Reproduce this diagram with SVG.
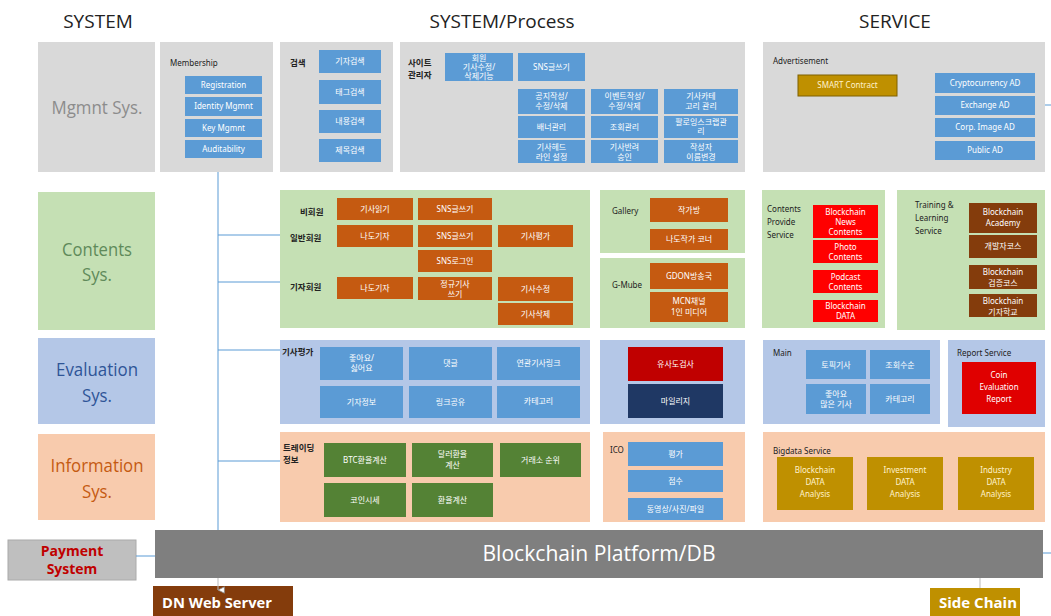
<svg xmlns="http://www.w3.org/2000/svg" width="1051" height="616" viewBox="0 0 1051 616">
<defs>
<style>
.pg{fill:#d9d9d9}.pgr{fill:#c5e0b4}.pbl{fill:#b4c7e7}.ppe{fill:#f8cbad}
.b{fill:#5b9bd5}.o{fill:#c55a11}.r{fill:#ff0000}.br{fill:#843c0c}.gd{fill:#bf9000}.dg{fill:#548235}
.t{font-family:"Noto Sans","Noto Sans CJK KR",sans-serif;font-size:8px;fill:#fff;text-anchor:middle}
.ty{font-family:"Noto Sans","Noto Sans CJK KR",sans-serif;font-size:8px;fill:#fff2cc;text-anchor:middle}
.lb{font-family:"Noto Sans","Noto Sans CJK KR",sans-serif;font-size:8px;fill:#222}
.lk{font-family:"Noto Sans CJK KR",sans-serif;font-size:8.5px;fill:#222;font-weight:bold}
.hd{font-family:"Open Sans","Noto Sans",sans-serif;font-size:19px;fill:#222;text-anchor:middle}
.sys{font-family:"Open Sans","Noto Sans",sans-serif;font-size:19px;text-anchor:middle}
.cn{stroke:#5b9bd5;stroke-width:1;fill:none}
</style>
<marker id="tri" viewBox="0 0 10 10" refX="5" refY="9" markerWidth="8" markerHeight="8" orient="auto">
<path d="M1,1 L9,1 L5,9 Z" fill="#fff" stroke="#888" stroke-width="1"/>
</marker>
</defs>
<rect width="1051" height="616" fill="#fff"/>

<g id="headers">
<text class="hd" x="98" y="28">SYSTEM</text>
<text class="hd" x="502" y="28">SYSTEM/Process</text>
<text class="hd" x="895" y="28">SERVICE</text>
</g>

<g id="mgmnt-sys"><rect class="pg" x="38" y="42" width="117" height="130"/>
<text class="sys" x="97" y="114" fill="#8c8c8c" textLength="91" lengthAdjust="spacingAndGlyphs">Mgmnt Sys.</text></g>
<g id="contents-sys"><rect class="pgr" x="38" y="192" width="117" height="138"/>
<text class="sys" x="97" y="256" fill="#5f8a5a" textLength="70" lengthAdjust="spacingAndGlyphs">Contents</text><text class="sys" x="97" y="281" fill="#5f8a5a" textLength="30" lengthAdjust="spacingAndGlyphs">Sys.</text></g>
<g id="evaluation-sys"><rect class="pbl" x="38" y="338" width="117" height="86"/>
<text class="sys" x="97" y="376" fill="#2f5597" textLength="82" lengthAdjust="spacingAndGlyphs">Evaluation</text><text class="sys" x="97" y="402" fill="#2f5597" textLength="30" lengthAdjust="spacingAndGlyphs">Sys.</text></g>
<g id="information-sys"><rect class="ppe" x="38" y="434" width="117" height="86"/>
<text class="sys" x="97" y="472" fill="#c55a11" textLength="93" lengthAdjust="spacingAndGlyphs">Information</text><text class="sys" x="97" y="498" fill="#c55a11" textLength="30" lengthAdjust="spacingAndGlyphs">Sys.</text></g>

<g id="membership"><rect class="pg" x="160" y="42" width="113" height="130"/>
<text class="lb" x="170" y="66">Membership</text>
<rect class="b" x="185" y="76" width="77" height="18"/><text class="t" x="223.5" y="88">Registration</text>
<rect class="b" x="185" y="97" width="77" height="19"/><text class="t" x="223.5" y="109">Identity Mgmnt</text>
<rect class="b" x="185" y="119" width="77" height="18"/><text class="t" x="223.5" y="131">Key Mgmnt</text>
<rect class="b" x="185" y="140" width="77" height="18"/><text class="t" x="223.5" y="152">Auditability</text></g>

<g id="search"><rect class="pg" x="280" y="42" width="113" height="130"/>
<text class="lk" x="290" y="66">검색</text>
<rect class="b" x="319" y="50" width="62" height="23"/><text class="t" x="350" y="64">기자검색</text>
<rect class="b" x="319" y="80" width="62" height="24"/><text class="t" x="350" y="95">태그검색</text>
<rect class="b" x="319" y="110" width="62" height="23"/><text class="t" x="350" y="124">내용검색</text>
<rect class="b" x="319" y="139" width="62" height="23"/><text class="t" x="350" y="153">제목검색</text></g>

<g id="site-admin"><rect class="pg" x="400" y="42" width="345" height="130"/>
<text class="lk" x="408" y="66">사이트</text><text class="lk" x="408" y="78">관리자</text>
<rect class="b" x="445" y="53" width="68" height="28"/><text class="t" x="479" y="61">회원</text><text class="t" x="479" y="70">기사수정/</text><text class="t" x="479" y="79">삭제기능</text>
<rect class="b" x="518" y="53" width="67" height="28"/><text class="t" x="551.5" y="70">SNS글쓰기</text>
<rect class="b" x="518" y="89" width="67" height="25"/><text class="t" x="551.5" y="99">공지작성/</text><text class="t" x="551.5" y="109">수정/삭제</text>
<rect class="b" x="591" y="89" width="67" height="25"/><text class="t" x="624.5" y="99">이벤트작성/</text><text class="t" x="624.5" y="109">수정/삭제</text>
<rect class="b" x="664" y="89" width="74" height="25"/><text class="t" x="701" y="99">기사카테</text><text class="t" x="701" y="109">고리 관리</text>
<rect class="b" x="518" y="116" width="67" height="22"/><text class="t" x="551.5" y="130">배너관리</text>
<rect class="b" x="591" y="116" width="67" height="22"/><text class="t" x="624.5" y="130">조회관리</text>
<rect class="b" x="664" y="116" width="74" height="22"/><text class="t" x="701" y="125">팔로잉스크랩관</text><text class="t" x="701" y="134">리</text>
<rect class="b" x="518" y="140" width="67" height="23"/><text class="t" x="551.5" y="150">기사헤드</text><text class="t" x="551.5" y="160">라인 설정</text>
<rect class="b" x="591" y="140" width="67" height="23"/><text class="t" x="624.5" y="150">기사반려</text><text class="t" x="624.5" y="160">승인</text>
<rect class="b" x="664" y="140" width="74" height="23"/><text class="t" x="701" y="150">작성자</text><text class="t" x="701" y="160">이름변경</text></g>

<g id="advertisement"><rect class="pg" x="763" y="42" width="282" height="130"/>
<text class="lb" x="773" y="64">Advertisement</text>
<rect class="gd" x="798" y="75" width="99" height="21" stroke="#7f6000" stroke-width="1"/><text class="ty" x="847.5" y="88">SMART Contract</text>
<rect class="b" x="935" y="73" width="100" height="20"/><text class="t" x="985" y="86">Cryptocurrency AD</text>
<rect class="b" x="935" y="96" width="100" height="19"/><text class="t" x="985" y="108">Exchange AD</text>
<rect class="b" x="935" y="118" width="100" height="19"/><text class="t" x="985" y="130">Corp. Image AD</text>
<rect class="b" x="935" y="141" width="100" height="19"/><text class="t" x="985" y="153">Public AD</text></g>

<g id="member-contents"><rect class="pgr" x="280" y="190" width="310" height="138"/>
<text class="lk" x="300" y="215">비회원</text>
<text class="lk" x="290" y="241">일반회원</text>
<text class="lk" x="290" y="290">기자회원</text>
<rect class="o" x="337" y="198" width="76" height="22"/><text class="t" x="375" y="212">기사읽기</text>
<rect class="o" x="418" y="198" width="74" height="22"/><text class="t" x="455" y="212">SNS글쓰기</text>
<rect class="o" x="337" y="225" width="76" height="22"/><text class="t" x="375" y="239">나도기자</text>
<rect class="o" x="418" y="225" width="74" height="22"/><text class="t" x="455" y="239">SNS글쓰기</text>
<rect class="o" x="498" y="225" width="75" height="22"/><text class="t" x="535.5" y="239">기사평가</text>
<rect class="o" x="418" y="250" width="74" height="22"/><text class="t" x="455" y="264">SNS로그인</text>
<rect class="o" x="337" y="277" width="76" height="22"/><text class="t" x="375" y="291">나도기자</text>
<rect class="o" x="418" y="277" width="74" height="23"/><text class="t" x="455" y="287">정규기사</text><text class="t" x="455" y="297">쓰기</text>
<rect class="o" x="498" y="277" width="75" height="24"/><text class="t" x="535.5" y="292">기사수정</text>
<rect class="o" x="498" y="303" width="75" height="22"/><text class="t" x="535.5" y="317">기사삭제</text></g>

<g id="gallery"><rect class="pgr" x="600" y="190" width="145" height="63"/>
<text class="lb" x="612" y="214">Gallery</text>
<rect class="o" x="650" y="198" width="78" height="24"/><text class="t" x="689" y="213">작가방</text>
<rect class="o" x="650" y="229" width="78" height="21"/><text class="t" x="689" y="242">나도작가 코너</text></g>

<g id="g-mube"><rect class="pgr" x="600" y="258" width="145" height="70"/>
<text class="lb" x="612" y="288">G-Mube</text>
<rect class="o" x="650" y="263" width="78" height="26"/><text class="t" x="689" y="279">GDON방송국</text>
<rect class="o" x="650" y="292" width="78" height="30"/><text class="t" x="689" y="304">MCN채널</text><text class="t" x="689" y="315">1인 미디어</text></g>

<g id="contents-provide"><rect class="pgr" x="762" y="190" width="123" height="138"/>
<text class="lb" x="767" y="212">Contents</text><text class="lb" x="767" y="225">Provide</text><text class="lb" x="767" y="238">Service</text>
<rect class="r" x="813" y="205" width="65" height="33"/><text class="t" x="845.5" y="215">Blockchain</text><text class="t" x="845.5" y="225">News</text><text class="t" x="845.5" y="235">Contents</text>
<rect class="r" x="813" y="240" width="65" height="23"/><text class="t" x="845.5" y="250">Photo</text><text class="t" x="845.5" y="260">Contents</text>
<rect class="r" x="813" y="270" width="65" height="23"/><text class="t" x="845.5" y="280">Podcast</text><text class="t" x="845.5" y="290">Contents</text>
<rect class="r" x="813" y="300" width="65" height="22"/><text class="t" x="845.5" y="309">Blockchain</text><text class="t" x="845.5" y="319">DATA</text></g>

<g id="training"><rect class="pgr" x="897" y="190" width="148" height="140"/>
<text class="lb" x="915" y="208">Training &amp;</text><text class="lb" x="915" y="221">Learning</text><text class="lb" x="915" y="234">Service</text>
<rect class="br" x="969" y="203" width="68" height="30"/><text class="t" x="1003" y="215">Blockchain</text><text class="t" x="1003" y="226">Academy</text>
<rect class="br" x="969" y="235" width="68" height="23"/><text class="t" x="1003" y="249">개발자코스</text>
<rect class="br" x="969" y="265" width="68" height="24"/><text class="t" x="1003" y="275">Blockchain</text><text class="t" x="1003" y="286">검증코스</text>
<rect class="br" x="969" y="294" width="68" height="23"/><text class="t" x="1003" y="304">Blockchain</text><text class="t" x="1003" y="315">기자학교</text></g>

<g id="article-eval"><rect class="pbl" x="280" y="340" width="310" height="84"/>
<text class="lk" x="282" y="355">기사평가</text>
<rect class="b" x="320" y="347" width="83" height="33"/><text class="t" x="361.5" y="361">좋아요/</text><text class="t" x="361.5" y="371">싫어요</text>
<rect class="b" x="409" y="347" width="83" height="33"/><text class="t" x="450.5" y="366">댓글</text>
<rect class="b" x="497" y="347" width="83" height="33"/><text class="t" x="538.5" y="366">연관기사링크</text>
<rect class="b" x="320" y="386" width="83" height="32"/><text class="t" x="361.5" y="405">기자정보</text>
<rect class="b" x="409" y="386" width="83" height="32"/><text class="t" x="450.5" y="405">링크공유</text>
<rect class="b" x="497" y="386" width="83" height="32"/><text class="t" x="538.5" y="404">카테고리</text></g>

<g id="similarity"><rect class="pbl" x="600" y="340" width="145" height="84"/>
<rect x="628" y="347" width="95" height="34" fill="#c00000"/><text class="t" x="675.5" y="367">유사도검사</text>
<rect x="628" y="384" width="95" height="34" fill="#1f3864"/><text class="t" x="675.5" y="404">마일리지</text></g>

<g id="main"><rect class="pbl" x="763" y="340" width="177" height="84"/>
<text class="lb" x="773" y="356">Main</text>
<rect class="b" x="806" y="350" width="60" height="29"/><text class="t" x="836" y="368">토픽기사</text>
<rect class="b" x="870" y="350" width="60" height="29"/><text class="t" x="900" y="368">조회수순</text>
<rect class="b" x="806" y="384" width="60" height="30"/><text class="t" x="836" y="397">좋아요</text><text class="t" x="836" y="407">많은 기사</text>
<rect class="b" x="870" y="384" width="60" height="30"/><text class="t" x="900" y="402">카테고리</text></g>

<g id="report-service"><rect class="pbl" x="948" y="340" width="97" height="87"/>
<text class="lb" x="957" y="356">Report  Service</text>
<rect x="962" y="362" width="74" height="52" fill="#e00000"/><text class="t" x="999" y="378">Coin</text><text class="t" x="999" y="390">Evaluation</text><text class="t" x="999" y="402">Report</text></g>

<g id="trading"><rect class="ppe" x="280" y="432" width="310" height="90"/>
<text class="lk" x="283" y="451">트레이딩</text><text class="lk" x="283" y="463">정보</text>
<rect class="dg" x="324" y="443" width="82" height="34"/><text class="t" x="365" y="463">BTC환율계산</text>
<rect class="dg" x="412" y="443" width="81" height="34"/><text class="t" x="452.5" y="457">달러환율</text><text class="t" x="452.5" y="468">계산</text>
<rect class="dg" x="500" y="443" width="81" height="34"/><text class="t" x="540.5" y="463">거래소 순위</text>
<rect class="dg" x="324" y="483" width="82" height="34"/><text class="t" x="365" y="503">코인시세</text>
<rect class="dg" x="412" y="483" width="81" height="34"/><text class="t" x="452.5" y="503">환율계산</text></g>

<g id="ico"><rect class="ppe" x="603" y="432" width="142" height="90"/>
<text class="lb" x="610" y="453">ICO</text>
<rect class="b" x="628" y="442" width="95" height="24"/><text class="t" x="675.5" y="457">평가</text>
<rect class="b" x="628" y="470" width="95" height="22"/><text class="t" x="675.5" y="484">점수</text>
<rect class="b" x="628" y="498" width="95" height="22"/><text class="t" x="675.5" y="512">동영상/사진/파일</text></g>

<g id="bigdata"><rect class="ppe" x="763" y="432" width="282" height="90"/>
<text class="lb" x="773" y="454">Bigdata  Service</text>
<rect class="gd" x="777" y="457" width="76" height="53"/><text class="ty" x="815" y="473">Blockchain</text><text class="ty" x="815" y="485">DATA</text><text class="ty" x="815" y="497">Analysis</text>
<rect class="gd" x="867" y="457" width="76" height="53"/><text class="ty" x="905" y="473">Investment</text><text class="ty" x="905" y="485">DATA</text><text class="ty" x="905" y="497">Analysis</text>
<rect class="gd" x="958" y="457" width="76" height="53"/><text class="ty" x="996" y="473">Industry</text><text class="ty" x="996" y="485">DATA</text><text class="ty" x="996" y="497">Analysis</text></g>

<g id="blockchain-platform"><rect x="155" y="530" width="888" height="48" fill="#7f7f7f"/>
<text x="599" y="561" font-family="'Open Sans','Noto Sans',sans-serif" font-size="22" fill="#fff" text-anchor="middle" textLength="233" lengthAdjust="spacingAndGlyphs">Blockchain Platform/DB</text></g>

<g id="payment-system"><rect x="8" y="540" width="128" height="40" fill="#bfbfbf" stroke="#aaa" stroke-width="1"/>
<text x="72" y="556" font-family="'Open Sans','Noto Sans',sans-serif" font-size="14" font-weight="bold" fill="#c00000" text-anchor="middle">Payment</text>
<text x="72" y="574" font-family="'Open Sans','Noto Sans',sans-serif" font-size="14" font-weight="bold" fill="#c00000" text-anchor="middle">System</text></g>

<g id="dn-web-server"><rect x="153" y="586" width="140" height="30" fill="#843c0c"/>
<text x="217" y="608" font-family="'Open Sans','Noto Sans',sans-serif" font-size="15" font-weight="bold" fill="#fff" text-anchor="middle" textLength="110" lengthAdjust="spacingAndGlyphs">DN Web Server</text></g>

<g id="side-chain"><rect x="930" y="588" width="90" height="28" fill="#bf9000"/>
<text x="978" y="608" font-family="'Open Sans','Noto Sans',sans-serif" font-size="15" font-weight="bold" fill="#fff" text-anchor="middle">Side Chain</text></g>

<g id="connectors">
<line class="cn" x1="218" y1="172" x2="218" y2="530"/>
<line class="cn" x1="218" y1="235" x2="280" y2="235"/>
<line class="cn" x1="218" y1="282" x2="280" y2="282"/>
<line class="cn" x1="218" y1="350" x2="280" y2="350"/>
<line class="cn" x1="218" y1="461" x2="280" y2="461"/>
<line class="cn" x1="136" y1="556" x2="155" y2="556"/>
<line class="cn" x1="1045" y1="105" x2="1051" y2="105"/>
<line class="cn" x1="1043" y1="553" x2="1051" y2="553"/>
<line x1="218" y1="578" x2="218" y2="590" stroke="#bbb" stroke-width="1" marker-end="url(#tri)"/>
<line x1="980" y1="578" x2="980" y2="588" stroke="#bbb" stroke-width="1"/>
</g>
</svg>
